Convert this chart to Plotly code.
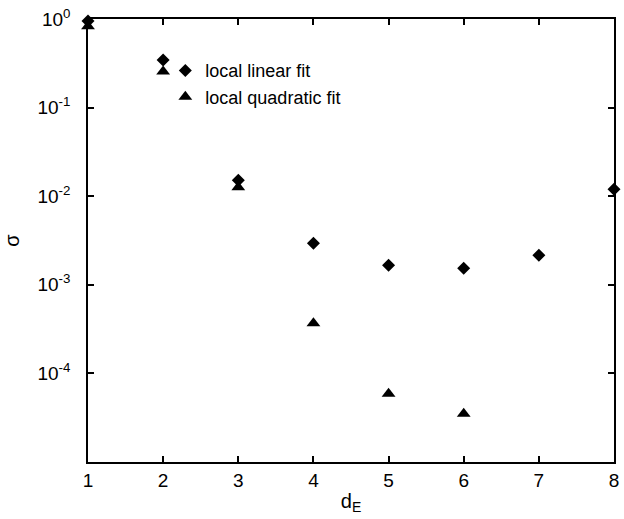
import plotly.graph_objects as go

# embedding dimension d_E and fit error sigma for two local fit orders
d_e = [1, 2, 3, 4, 5, 6, 7, 8]
sigma_linear = [0.95, 0.345, 0.0151, 0.00295, 0.00166, 0.00154, 0.00215, 0.0120]
d_e_quad = [1, 2, 3, 4, 5, 6]
sigma_quadratic = [0.83, 0.255, 0.0126, 0.000367, 5.9e-5, 3.5e-5]

y_tick_vals = [1, 1e-1, 1e-2, 1e-3, 1e-4]
y_tick_text = ["10<sup>0</sup>", "10<sup>-1</sup>", "10<sup>-2</sup>",
               "10<sup>-3</sup>", "10<sup>-4</sup>"]
x_tick_vals = [1, 2, 3, 4, 5, 6, 7, 8]

FONT = "Liberation Sans, Arial, sans-serif"

fig = go.Figure()
fig.add_trace(go.Scatter(
    x=d_e, y=sigma_linear, mode="markers", name="local linear fit",
    marker=dict(symbol="diamond", size=10, color="black"),
    cliponaxis=False,
))
fig.add_trace(go.Scatter(
    x=d_e_quad, y=sigma_quadratic, mode="markers", name="local quadratic fit",
    marker=dict(symbol="triangle-up", size=12, color="black"),
    cliponaxis=False,
))

axis_common = dict(
    showline=True, linecolor="black", linewidth=1.5, mirror="ticks",
    ticks="inside", ticklen=6, tickwidth=1.5, tickcolor="black",
    showgrid=False, zeroline=False, automargin=False,
    tickfont=dict(family=FONT, size=19, color="black"),
)

fig.update_layout(
    width=624, height=519,
    margin=dict(l=88, r=10, t=19, b=57),
    paper_bgcolor="white", plot_bgcolor="white",
    font=dict(family=FONT, color="black"),
    xaxis=dict(
        range=[1, 8], tickvals=x_tick_vals,
        title=dict(text="d<sub>E</sub>", font=dict(family=FONT, size=20), standoff=4),
        ticklabelstandoff=0,
        **axis_common,
    ),
    yaxis=dict(
        type="log", range=[-5, 0],
        tickvals=y_tick_vals, ticktext=y_tick_text,
        title=dict(text="σ", font=dict(family=FONT, size=20), standoff=12),
        ticklabelstandoff=12,
        **axis_common,
    ),
    showlegend=True,
    legend=dict(
        x=0.147, y=0.925, xanchor="left", yanchor="top",
        bgcolor="rgba(0,0,0,0)", borderwidth=0,
        font=dict(family=FONT, size=18, color="black"),
        itemwidth=30, tracegroupgap=0,
    ),
)

fig.write_html("out.html")
